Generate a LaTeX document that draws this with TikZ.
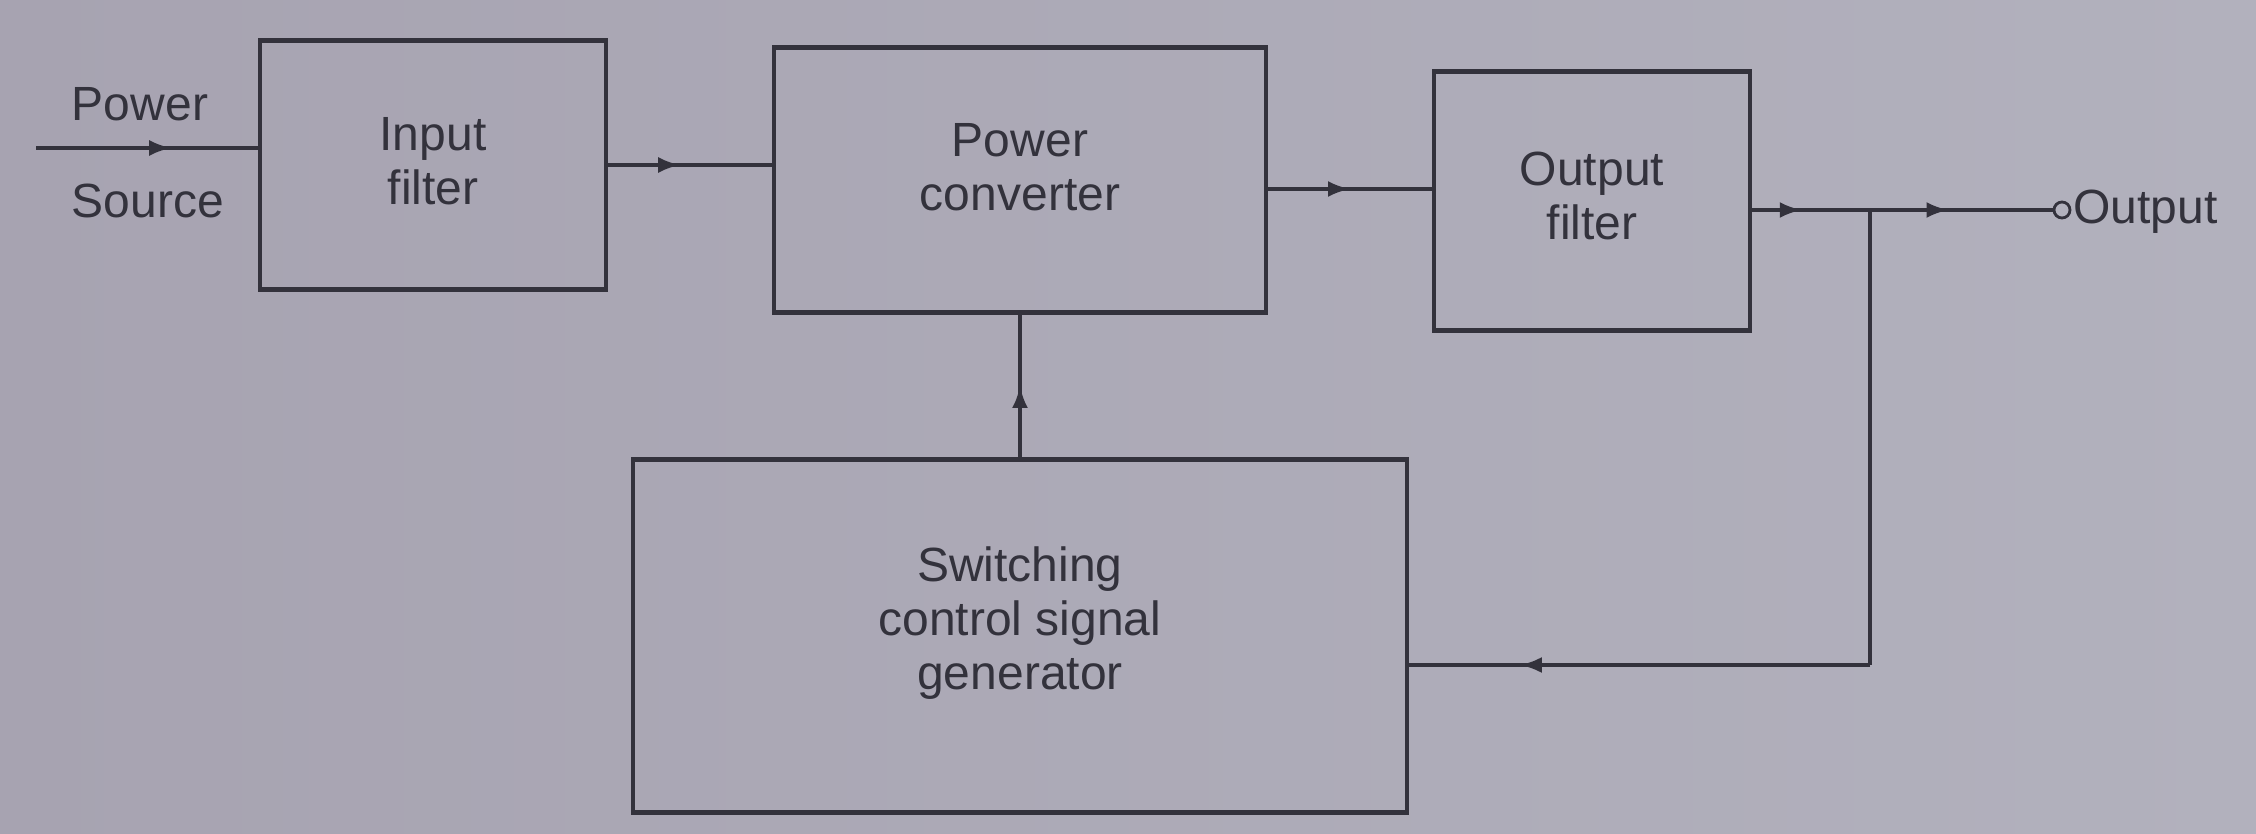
\documentclass[tikz,border=0pt]{standalone}
\usepackage{fontspec}
\setmainfont{Liberation Sans}
\usetikzlibrary{arrows.meta,decorations.markings}
\definecolor{bgl}{HTML}{A7A3B1}
\definecolor{bgr}{HTML}{B2B1BD}
\definecolor{ink}{HTML}{33323C}
\begin{document}
\begin{tikzpicture}[x=0.5pt,y=-0.5pt,
  blk/.style={draw=ink, line width=2.3pt, rectangle, inner sep=0pt},
  wire/.style={draw=ink, line width=1.9pt},
  midarrow/.style={postaction={decorate}, decoration={markings,
    mark=at position #1 with {\arrow{Latex[length=11pt,width=8pt]}}}},
  lbl/.style={font=\fontsize{24}{27}\selectfont, text=ink, inner sep=0pt, align=center}]
\shade[left color=bgl, right color=bgr] (0,0) rectangle (2256,834);
\useasboundingbox (0,0) rectangle (2256,834);

\node[blk, minimum width=173pt, minimum height=124.5pt,
  label={[lbl, name=infl, yshift=2pt]center:Input\\filter}] (inf) at (433,165) {};
\node[blk, minimum width=246pt, minimum height=132.5pt,
  label={[lbl, name=pcl, yshift=6.5pt]center:Power\\converter}] (pc) at (1020,180) {};
\node[blk, minimum width=158pt, minimum height=129.5pt,
  label={[lbl, name=ofl, yshift=2.5pt]center:Output\\filter}] (of) at (1592,201) {};
\node[blk, minimum width=387pt, minimum height=176.5pt,
  label={[lbl, name=swl, yshift=6.5pt]center:Switching\\control signal\\generator}] (sw) at (1020,636) {};

\node[lbl] (pwr) at (140,104) {Power};
\node[lbl] (srcl) at (148,201) {Source};
\node[draw=ink, line width=1.4pt, circle, inner sep=0pt, minimum size=8pt, fill=bgr] (out) at (2062,210) {};
\node[lbl, anchor=west] (outl) at (2073,212) {Output};

\coordinate (src) at (36,148);
\coordinate (br) at (1870,210);
\coordinate (cor) at (1870,665);

\draw[wire, midarrow=0.61] (src) -- (src -| inf.west);
\draw[wire, midarrow=0.44] (inf.east) -- (inf.east -| pc.west);
\draw[wire, midarrow=0.5] ([yshift=-4.5pt]pc.east) -- ([yshift=-4.5pt]pc.east -| of.west);
\draw[wire, midarrow=0.42] ([yshift=-4.5pt]of.east) -- (br);
\draw[wire, midarrow=0.43] (br) -- (out);
\draw[wire] (br) -- (cor);
\draw[wire, midarrow=0.76] (cor) -- (cor -| sw.east);
\draw[wire, midarrow=0.5] (sw.north) -- (pc.south);
\end{tikzpicture}
\end{document}
